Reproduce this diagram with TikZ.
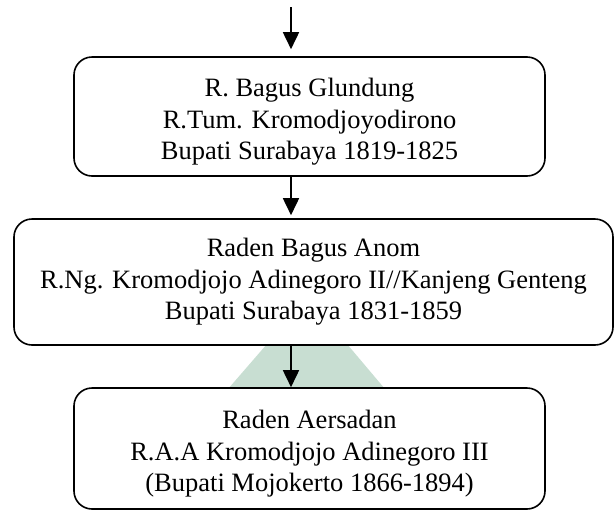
\documentclass[tikz,border=0pt]{standalone}
\usepackage{fontspec}
\setmainfont{Liberation Serif}
\usetikzlibrary{arrows.meta}

\tikzset{
  kotak/.style={draw, line width=1.6pt, rounded corners=18pt, fill=white,
    align=center, inner sep=0pt, font=\fontsize{26.5}{31.5}\selectfont},
  panah/.style={line width=1.7pt, -{Triangle[width=16pt,length=17pt]}}
}
\definecolor{tanda}{RGB}{200,222,210}

\begin{document}
\begin{tikzpicture}[x=1pt, y=-1pt]
        \useasboundingbox (0,0) rectangle (615,512);

        % Tanda air di belakang
        \fill[tanda] (267,344) -- (347,344) -- (385,389) -- (228,389) -- cycle;

        % Kotak-kotak
        \node[kotak, minimum width=471pt, minimum height=119pt] (glundung) at (309.5,116.5)
          {\rule{0pt}{29pt}R. Bagus Glundung\\R.Tum. Kromodjoyodirono\\Bupati Surabaya 1819-1825};
        \node[kotak, minimum width=599pt, minimum height=126pt] (anom) at (313.5,282)
          {Raden Bagus Anom\\R.Ng. Kromodjojo Adinegoro II//Kanjeng Genteng\\Bupati Surabaya 1831-1859};
        \node[kotak, minimum width=471pt, minimum height=121pt] (aersadan) at (309.5,448.5)
          {\rule{0pt}{29pt}Raden Aersadan\\R.A.A Kromodjojo Adinegoro III\\(Bupati Mojokerto 1866-1894)};

        % Garis panah
        \coordinate (awal) at (291,7);
        \draw[panah, shorten >=7pt] (awal) -- (glundung.north -| awal);
        \draw[panah, shorten >=3pt] (glundung.south -| awal) -- (anom.north -| awal);
        \draw[panah] (anom.south -| awal) -- (aersadan.north -| awal);
\end{tikzpicture}
\end{document}
